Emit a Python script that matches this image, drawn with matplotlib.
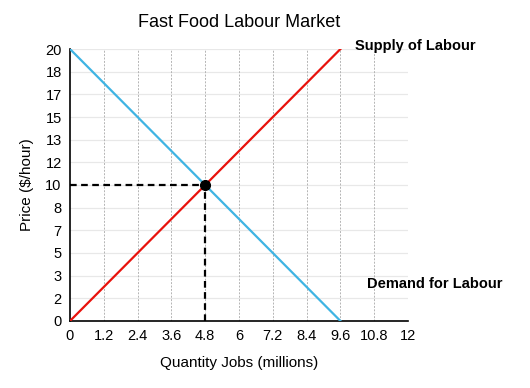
import numpy as np
import matplotlib.pyplot as plt

plt.rcParams['font.family'] = ['Liberation Sans', 'DejaVu Sans']

# Supply and demand lines for the fast food labour market
supply_q = [0, 9.6]
supply_p = [0, 20]
demand_q = [0, 9.6]
demand_p = [20, 0]
eq_q = 4.8
eq_p = 10

x_ticks = [0, 1.2, 2.4, 3.6, 4.8, 6, 7.2, 8.4, 9.6, 10.8, 12]
y_ticks = list(np.linspace(0, 20, 13))
y_labels = ['0', '2', '3', '5', '7', '8', '10', '12', '13', '15', '17', '18', '20']

fig = plt.figure(figsize=(5.3, 3.88), dpi=100)
ax = fig.add_axes([0.132, 0.1727, 0.638, 0.701])

for y in y_ticks:
    ax.axhline(y, color='#e8e8e8', lw=0.9, zorder=0)
for x in x_ticks[1:]:
    ax.axvline(x, color='#b4b4b4', lw=0.7, ls=(0, (2, 1.5)), zorder=0)

ax.plot(supply_q, supply_p, color='#e8120c', lw=1.6, zorder=3)
ax.plot(demand_q, demand_p, color='#3fb4e3', lw=1.6, zorder=3)

ax.plot([0, eq_q], [eq_p, eq_p], color='black', lw=1.6, ls=(0, (3, 2)), zorder=4)
ax.plot([eq_q, eq_q], [0, eq_p], color='black', lw=1.6, ls=(0, (3, 2)), zorder=4)
ax.plot(eq_q, eq_p, 'o', color='black', ms=7, zorder=5)

ax.text(10.12, 20.2, 'Supply of Labour', fontsize=10.5, fontweight='bold', va='center', clip_on=False)
ax.text(10.54, 2.72, 'Demand for Labour', fontsize=10.5, fontweight='bold', va='center', clip_on=False)

ax.set_xlim(0, 12)
ax.set_ylim(0, 20)
ax.set_xticks(x_ticks)
ax.set_xticklabels([f'{v:g}' for v in x_ticks])
ax.set_yticks(y_ticks)
ax.set_yticklabels(y_labels)
ax.tick_params(length=0, labelsize=10.5, pad=6)

for s in ['top', 'right']:
    ax.spines[s].set_visible(False)
for s in ['left', 'bottom']:
    ax.spines[s].set_linewidth(1.2)
    ax.spines[s].set_color('black')

ax.set_title('Fast Food Labour Market', fontsize=13, pad=16)
ax.set_xlabel('Quantity Jobs (millions)', fontsize=11, labelpad=9)
ax.set_ylabel('Price ($/hour)', fontsize=11, labelpad=8)

fig.savefig('out.png', dpi=100)
